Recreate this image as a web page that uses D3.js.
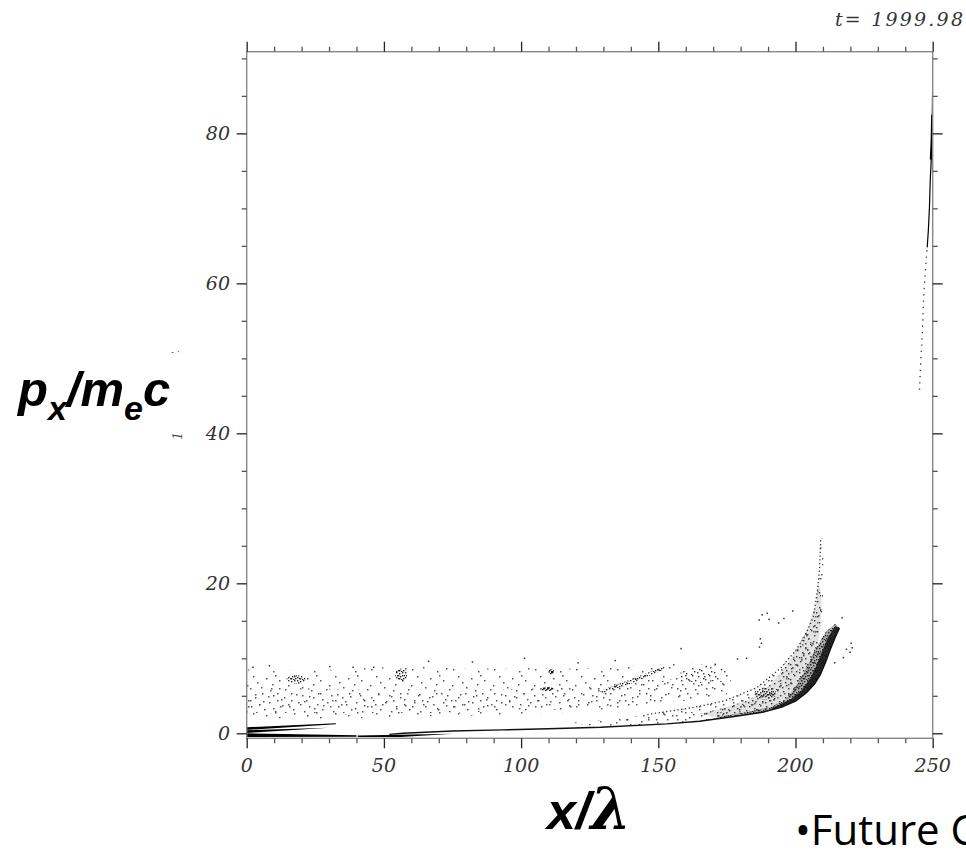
<!DOCTYPE html>
<html><head><meta charset="utf-8">
<script src="https://cdn.jsdelivr.net/npm/d3@7"></script>
<style>body{margin:0;background:#fff;} svg{display:block;}</style>
</head><body><svg id="c" width="966" height="851"></svg>
<script>
// ---------- data ----------
const timeLabel = "t= 1999.98";
const xMajorTicks = [0, 50, 100, 150, 200, 250];
const yMajorTicks = [0, 20, 40, 60, 80];
const xDomain = [0, 250];
const yDomain = [-0.667, 90.89];

// sparse electron band, upper left
const bandOuter = [[0,2.0],[30,1.9],[60,2.2],[90,2.4],[120,2.9],[140,3.4],[160,4.5],[176,5.6],[177,9.0],[160,9.3],[140,9.0],[120,8.6],[100,8.7],[80,8.6],[60,9.0],[40,8.6],[20,8.3],[0,8.5]];
const bandInner = [[0,2.6],[40,2.5],[80,2.8],[110,3.1],[130,3.4],[150,3.9],[175,5.0],[175,7.0],[150,7.3],[130,6.4],[110,6.0],[80,5.8],[50,5.8],[20,6.0],[0,6.2]];
// dense blobs [x, y, rx, ry, density]
const blobs = [[18,7.2,3.5,0.55,"pC"],[56.3,7.8,2.2,0.85,"pC"],[111,8.2,1.0,0.35,"pD"],[109.5,5.9,2.5,0.25,"pD"],[165,7.6,8,0.9,"pB"],[189,5.3,4,0.8,"pC"]];
const streak = [[129,5.2],[140,6.6],[152,8.5],[152.5,9.0],[140,7.2],[129,5.7]];
// accelerated branch
const upperEdge = [[118,1.4],[135,2.0],[146,2.5],[162,3.4],[174,4.3],[186,6.1],[194.6,8.7],[200,11],[203.5,13],[206.5,15.5],[208,19],[208.8,22],[209.2,26]];
const upperEdgeBack = [[210.2,26],[210.2,22],[210,18],[209.5,15],[208.5,13]];
const lowerBranch = [[52,-0.15],[57,0.0],[75,0.3],[93,0.45],[110,0.6],[129,0.8],[153,1.25],[165,1.6],[177,2.2],[188,2.8],[195,3.5],[200,4.3],[204,5.4],[207,6.6],[209,7.8],[211,9.5],[212.6,11.1],[214.5,12.8],[216,14]];
const betweenMedium = [[165,2.6],[174,3.4],[182,4.3],[188,5.5],[193,7.3],[198,9.8],[202,12.3],[205,14.5],[207.3,17],[208.5,20],[209.5,18],[209.2,15],[208.5,12.5],[206,9.5],[203,7],[199,5],[192,3.6],[184,2.8],[172,2.1]];
const denseBand = [[170,1.9],[177,2.2],[188,2.8],[195,3.5],[200,4.3],[204,5.4],[207,6.6],[209,7.8],[211,9.5],[212.6,11.1],[214.5,12.8],[216.2,14],[214.5,14.6],[211,13.5],[207.1,11.1],[204.5,9],[201.6,7.1],[199,5.6],[196.2,4.4],[191,3.5],[182,2.8],[172,2.2]];
const denseCore = [[190,3.0],[195,3.5],[200,4.3],[204,5.4],[207,6.6],[209,7.8],[211,9.5],[212.6,11.1],[214.5,12.8],[216,14],[214.5,14.3],[212,12.9],[209.8,11],[207.6,9],[205.3,7.3],[202.5,5.8],[198.5,4.6],[193,3.6]];
// bottom-left wedges
const wedges = [
  [[0,0.8],[32.5,1.35],[32.5,1.2],[0,0.45]],
  [[0,0.4],[30,0.75],[0,0.05]],
  [[0,0.0],[40,-0.25],[40,-0.45],[0,-0.5]],
  [[40.5,-0.3],[75.5,-0.05],[56,-0.5],[40.5,-0.5]]
];
// high-energy bunch near x = 250
const hiDense = [[248,64.8],[248.4,67],[248.8,70],[249.1,73.7],[249.4,76],[249.6,78],[249.8,81],[249.9,84],[250,87],[250,90.8]];
const hiCore = [[249.3,76.5],[249.6,79],[249.8,82.5]];
const hiSparse = [[245.2,45.8],[245.5,48.5],[245.7,50],[246.1,52.4],[246.4,55],[246.7,58.2],[247.2,61],[247.6,63],[248,64.8]];
// isolated particles
const outliers = [[217.2,10.2],[218.3,11.3],[219.6,10.9],[220.4,11.5],[216.7,15.5],[198.7,16.4],[186.5,15.2],[187.6,15.9],[189.4,16.1],[190.1,15.3],[193.6,14.8],[195.5,15.4],[186.6,11.6],[186.9,12.7],[187.3,12.1],[158,11.4],[178.6,10.0],[181.9,10.1],[167.2,9.0],[170.5,9.3],[172.8,8.6],[134,9.8],[120.5,9.5],[101,10.1],[82,9.6],[66,9.7],[46,8.9],[30,9.0],[8,9.1],[2,8.9],[38.5,8.9],[220,12.1],[214,9.5]];

// ---------- drawing ----------
const svg = d3.select("#c");
const x = d3.scaleLinear().domain(xDomain).range([246.7, 932.7]);
const y = d3.scaleLinear().domain(yDomain).range([738.3, 51.7]);
const defs = svg.append("defs");

function pattern(id, w, h, dots, s, col) {
  const p = defs.append("pattern").attr("id", id).attr("patternUnits", "userSpaceOnUse")
    .attr("width", w).attr("height", h);
  dots.forEach(d => p.append("rect").attr("x", d[0]).attr("y", d[1]).attr("width", s).attr("height", s).attr("fill", col));
}
pattern("pA", 41, 37, [[2,3],[13,1],[27,5],[36,2],[7,10],[20,12],[33,14],[1,19],[15,21],[26,18],[39,23],[9,28],[22,30],[31,27],[4,34],[17,35],[35,33],[11,16],[29,9],[24,24]], 1.5, "#555");
pattern("pA2", 29, 31, [[5,2],[18,6],[26,1],[1,11],[12,13],[23,15],[8,20],[19,24],[27,22],[3,27],[14,29],[24,30],[10,6],[16,18]], 1.5, "#555");
pattern("pB", 17, 15, [[1,1],[6,3],[12,0],[15,5],[3,7],[9,8],[14,11],[0,12],[6,13],[11,14],[8,4],[4,10]], 1.4, "#333");
pattern("pC", 9, 8, [[0,0],[3,1],[6,0],[8,3],[1,3],[4,4],[7,6],[2,6],[5,7],[0,5],[6,3],[3,6]], 1.4, "#222");
pattern("pD", 4, 4, [[0,0],[2,1],[1,2],[3,3],[0,3],[3,0]], 1.4, "#111");

defs.append("clipPath").attr("id", "plotclip").append("rect")
  .attr("x", x(0)).attr("y", y(yDomain[1])).attr("width", x(250) - x(0)).attr("height", y(yDomain[0]) - y(yDomain[1]));

const g = svg.append("g").attr("clip-path", "url(#plotclip)");
const line = d3.line().x(d => x(d[0])).y(d => y(d[1]));
const poly = (pts, fill, op) => g.append("path").attr("d", line(pts) + "Z").attr("fill", fill)
  .attr("fill-opacity", op === undefined ? 1 : op).attr("stroke", "none");

poly(bandOuter, "url(#pA)");
poly(bandInner, "url(#pA2)");
const betweenPoly = upperEdge.concat(upperEdgeBack, lowerBranch.filter(d => d[0] >= 118 && d[0] <= 209).reverse());
poly(betweenPoly, "url(#pA)");
poly(betweenPoly, "url(#pA2)");
poly(betweenMedium, "#888", 0.25);
poly(betweenMedium, "url(#pB)");
poly(betweenMedium, "url(#pA)");
poly(denseBand, "#555", 0.45);
poly(denseBand, "url(#pC)");
poly(denseCore, "#111", 0.85);
poly(streak, "url(#pC)");
blobs.forEach(b => {
  g.append("ellipse").attr("cx", x(b[0])).attr("cy", y(b[1]))
    .attr("rx", x(b[0] + b[2]) - x(b[0])).attr("ry", y(b[1]) - y(b[1] + b[3]))
    .attr("fill", `url(#${b[4]})`);
});
wedges.forEach(w => poly(w, "#000"));

g.append("path").attr("d", line(lowerBranch)).attr("fill", "none").attr("stroke", "#111").attr("stroke-width", 1.4);
g.append("path").attr("d", line(upperEdge.filter(d => d[0] > 140))).attr("fill", "none")
  .attr("stroke", "#333").attr("stroke-width", 1.3).attr("stroke-dasharray", "1.3 2.5");
g.append("path").attr("d", line(hiDense)).attr("fill", "none").attr("stroke", "#000").attr("stroke-width", 1.2);
g.append("path").attr("d", line(hiCore)).attr("fill", "none").attr("stroke", "#000").attr("stroke-width", 2);
g.append("path").attr("d", line(hiSparse)).attr("fill", "none").attr("stroke", "#333")
  .attr("stroke-width", 1.3).attr("stroke-dasharray", "1.3 5");
g.selectAll("rect.out").data(outliers).join("rect").attr("class", "out")
  .attr("x", d => x(d[0])).attr("y", d => y(d[1])).attr("width", 1.5).attr("height", 1.5).attr("fill", "#333");

// frame
svg.append("rect").attr("x", x(0)).attr("y", y(yDomain[1])).attr("width", x(250) - x(0))
  .attr("height", y(yDomain[0]) - y(yDomain[1])).attr("fill", "none").attr("stroke", "#888").attr("stroke-width", 1.4);

// ticks on all four sides
const xMinor = d3.range(0, 251, 10).filter(v => !xMajorTicks.includes(v));
const yMinor = d3.range(0, 91, 5).filter(v => !yMajorTicks.includes(v));
function ticks(axisFn, scale, vals, size, pos, col) {
  const a = svg.append("g").attr("transform", pos)
    .call(axisFn(scale).tickValues(vals).tickSize(size).tickSizeOuter(0).tickFormat(""));
  a.select(".domain").remove();
  a.selectAll("line").attr("stroke", col).attr("stroke-width", 1.3);
}
const yb = y(yDomain[0]), yt = y(yDomain[1]);
ticks(d3.axisBottom, x, xMinor, 5, `translate(0,${yb})`, "#555");
ticks(d3.axisBottom, x, xMajorTicks, 10, `translate(0,${yb})`, "#222");
ticks(d3.axisTop, x, xMinor, 5, `translate(0,${yt})`, "#555");
ticks(d3.axisTop, x, xMajorTicks, 10, `translate(0,${yt})`, "#222");
ticks(d3.axisLeft, y, yMinor, 5, `translate(${x(0)},0)`, "#555");
ticks(d3.axisLeft, y, yMajorTicks, 10, `translate(${x(0)},0)`, "#222");
ticks(d3.axisRight, y, yMinor, 5, `translate(${x(250)},0)`, "#555");
ticks(d3.axisRight, y, yMajorTicks, 10, `translate(${x(250)},0)`, "#222");

// tick labels
const lf = "'DejaVu Serif', serif";
svg.selectAll("text.xl").data(xMajorTicks).join("text").attr("class", "xl")
  .attr("x", d => x(d)).attr("y", 772).attr("text-anchor", "middle")
  .attr("font-family", lf).attr("font-style", "italic").attr("font-size", 19).attr("fill", "#333").text(d => d);
svg.selectAll("text.yl").data(yMajorTicks).join("text").attr("class", "yl")
  .attr("x", 230).attr("y", d => y(d) + 7).attr("text-anchor", "end")
  .attr("font-family", lf).attr("font-style", "italic").attr("font-size", 19).attr("fill", "#333").text(d => d);
svg.append("text").attr("x", 835).attr("y", 26).attr("textLength", 128).attr("lengthAdjust", "spacing")
  .attr("font-family", lf).attr("font-style", "italic").attr("font-size", 19).attr("fill", "#333").text(timeLabel);

// stray marks near the y axis
svg.append("text").attr("x", 171).attr("y", 355).attr("font-family", lf).attr("font-size", 9).attr("fill", "#555").text("- ·");
svg.append("text").attr("transform", "translate(182,436) rotate(-90)").attr("text-anchor", "middle")
  .attr("font-family", lf).attr("font-style", "italic").attr("font-size", 12).attr("fill", "#444").text("1");

// axis titles
const tf = "'Liberation Sans', Arial, sans-serif";
const yt1 = svg.append("text").attr("x", 18).attr("y", 406).attr("font-family", tf)
  .attr("font-weight", "bold").attr("font-style", "italic").attr("font-size", 49).attr("fill", "#000");
yt1.append("tspan").text("p");
yt1.append("tspan").attr("font-size", 34).attr("dy", 14).text("x");
yt1.append("tspan").attr("dy", -14).text("/m");
yt1.append("tspan").attr("font-size", 34).attr("dy", 14).text("e");
yt1.append("tspan").attr("dy", -14).text("c");

const xt = svg.append("text").attr("x", 547).attr("y", 829).attr("font-weight", "bold").attr("fill", "#000");
xt.append("tspan").attr("font-family", tf).attr("font-style", "italic").attr("font-size", 52).text("x/");
xt.append("tspan").attr("font-family", "'DejaVu Serif', serif").attr("font-style", "italic").attr("font-size", 58).text("λ");

svg.append("text").attr("x", 795).attr("y", 845).attr("font-family", "'Open Sans', sans-serif")
  .attr("font-size", 42).attr("fill", "#000").text("•Future C");
</script></body></html>
